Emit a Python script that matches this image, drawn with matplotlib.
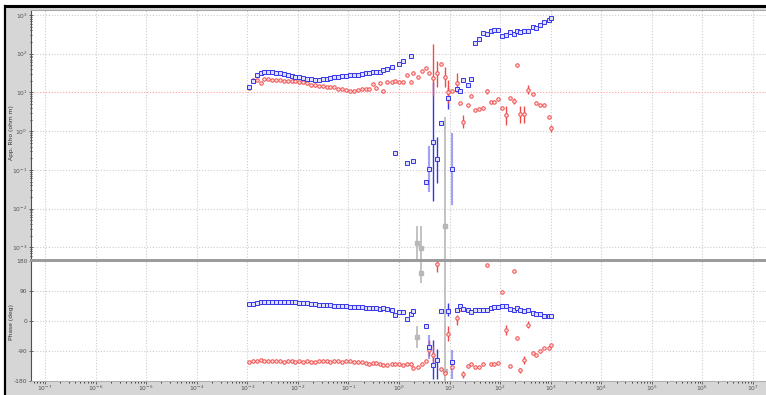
import numpy as np
import matplotlib
matplotlib.use("Agg")
import matplotlib.pyplot as plt
from matplotlib.ticker import FixedLocator, NullFormatter, LogLocator
from matplotlib.patches import Rectangle
from matplotlib.lines import Line2D

# ---------------------------------------------------------------- data
# log10 of period (s)
log_period = [
    -2.97, -2.89, -2.81, -2.73, -2.66, -2.59, -2.51, -2.43, -2.36, -2.28,
    -2.20, -2.12, -2.05, -1.97, -1.89, -1.82, -1.74, -1.66, -1.59, -1.51,
    -1.43, -1.36, -1.28, -1.20, -1.12, -1.05, -0.97, -0.89, -0.82, -0.74,
    -0.66, -0.59, -0.51, -0.45,
    -0.38, -0.31, -0.23, -0.14, -0.07, 0.00, 0.07, 0.15, 0.23, 0.28,
    0.38, 0.46, 0.54, 0.60, 0.67, 0.76, 0.83, 0.91, 0.97, 1.05,
    1.14, 1.21, 1.26, 1.36, 1.43, 1.50, 1.58, 1.66, 1.74, 1.81,
    1.88, 1.96, 2.04, 2.11, 2.19, 2.27, 2.34, 2.40, 2.48, 2.56,
    2.64, 2.70, 2.78, 2.86, 2.96, 3.01,
]

nan = float("nan")

# log10 apparent resistivity (ohm m), xy component (blue squares)
log_rho_xy = [
    1.14, 1.29, 1.44, 1.49, 1.53, 1.53, 1.53, 1.51, 1.50, 1.48,
    1.45, 1.42, 1.40, 1.39, 1.38, 1.36, 1.34, 1.33, 1.33, 1.34,
    1.36, 1.38, 1.39, 1.40, 1.42, 1.43, 1.44, 1.45, 1.46, 1.48,
    1.50, 1.51, 1.52, 1.52,
    1.52, 1.58, 1.61, 1.65, -0.57, 1.74, 1.80, -0.81, 1.94, -0.76,
    nan, nan, -1.32, -0.97, -0.27, -0.71, 0.22, nan, 0.85, -0.97,
    1.09, 1.03, 1.31, 1.20, 1.35, 2.29, 2.39, 2.54, 2.52, 2.60,
    2.62, 2.62, 2.46, 2.48, 2.55, 2.51, 2.60, 2.56, 2.60, 2.60,
    2.70, 2.66, 2.74, 2.82, 2.88, 2.92,
]

# log10 apparent resistivity (ohm m), yx component (red circles)
log_rho_yx = [
    1.12, 1.33, 1.33, 1.24, 1.34, 1.34, 1.33, 1.31, 1.32, 1.30,
    1.29, 1.30, 1.29, 1.28, 1.27, 1.25, 1.20, 1.18, 1.17, 1.16,
    1.15, 1.15, 1.13, 1.10, 1.09, 1.07, 1.05, 1.04, 1.06, 1.08,
    1.10, 1.08, 1.22, 1.12,
    1.24, 1.05, 1.26, 1.27, 1.29, 1.26, 1.26, 1.44, 1.27, 1.50,
    1.39, 1.56, 1.62, 1.51, 1.38, 1.50, 1.74, 1.41, 1.02, 1.03,
    1.24, 0.73, 0.24, 0.67, 0.90, 0.54, 0.58, 0.61, 1.03, 0.75,
    0.75, 0.82, 0.61, 0.41, 0.86, 0.77, 1.71, 0.44, 0.44, 1.07,
    0.95, 0.73, 0.68, 0.67, 0.37, 0.07,
]

# phase (deg)
phase_xy = [
    51, 51, 54, 57, 58, 58, 58, 58, 58, 58,
    57, 56, 56, 55, 54, 53, 51, 50, 49, 48,
    47, 47, 46, 45, 44, 44, 43, 42, 42, 41,
    40, 39, 39, 38,
    37, 39, 36, 32, 18, 26, 26, 7, 21, 29,
    nan, nan, -16, -78, -133, -119, 31, nan, 30, -124,
    32, 46, 36, 34, 27, 32, 32, 34, 34, 39,
    41, 41, 44, 46, 37, 34, 38, 33, 31, 32,
    24, 22, 21, 14, 14, 14,
]

phase_yx = [
    -124, -121, -121, -118, -121, -121, -122, -121, -122, -123,
    -121, -122, -124, -122, -123, -121, -123, -124, -122, -121,
    -122, -123, -121, -121, -123, -122, -122, -124, -125, -124,
    -127, -129, -126, -128,
    -131, -134, -134, -131, -131, -131, -134, -131, -131, -141,
    -138, -131, -121, -86, -102, 172, -144, -156, -38, -138,
    9, 36, -161, -136, -131, -138, -138, -131, 169, -131,
    -131, -126, 86, -26, -136, 152, -51, -148, -118, -11,
    -98, -104, -91, -82, -80, -71,
]

# error bars: log10 period, lower and upper bound
xy_rho_err_period = [0.60, 0.67, 0.76, 0.97, 1.05]
xy_rho_err_lo = [-1.58, -1.81, -1.33, 0.58, -1.90]
xy_rho_err_hi = [-0.38, 1.26, -0.15, 1.14, -0.06]

yx_rho_err_period = [0.67, 0.76, 0.91, 0.97, 1.14, 1.26, 1.74, 2.11, 2.27, 2.40, 2.48, 2.56, 3.01]
yx_rho_err_lo = [0.90, 1.14, 1.15, 0.72, 1.01, 0.07, 0.95, 0.15, 0.70, 0.22, 0.22, 0.95, -0.02]
yx_rho_err_hi = [2.26, 1.82, 1.67, 1.31, 1.49, 0.41, 1.10, 0.64, 0.85, 0.66, 0.66, 1.18, 0.15]

xy_phase_err_period = [0.60, 0.67, 0.76, 0.97, 1.05]
xy_phase_err_lo = [-116, -176, -174, 14, -176]
xy_phase_err_hi = [-41, -56, -84, 54, -86]

yx_phase_err_period = [0.60, 0.67, 0.76, 0.97, 1.14, 1.26, 2.11, 2.40, 2.48, 2.56]
yx_phase_err_lo = [-106, -131, 149, -61, -11, -171, -41, -156, -131, -21]
yx_phase_err_hi = [-56, -76, 184, -16, 19, -151, -11, -141, -106, -1]

# masked (deselected) estimates, drawn in grey
masked_period = [0.36, 0.44, 0.91]
masked_log_rho = [-2.88, -3.03, -2.44]
masked_rho_lo = [-3.4, -3.4, -3.4]
masked_rho_hi = [-2.44, -2.44, 0.37]
masked_phase = [-48, 146, -150]
masked_phase_lo = [-81, 115, -185]
masked_phase_hi = [-16, 185, 185]

# decade tick labels
x_decades = list(range(-7, 8))
rho_decades = list(range(-3, 4))
phase_ticks = [-180, -90, 0, 90, 180]

# ---------------------------------------------------------------- style
BLUE = "#3636e8"
BLUE_FACE = "#dedeff"
BLUE_LIGHT = "#8c8cf4"
RED = "#f04a4a"
RED_FACE = "#ffdede"
GREY = "#b8b8b8"
GRID = "#cdcdcd"
REFLINE = "#ffa0a0"
PANEL = "#d6d6d6"
TICKCOL = "#505050"
FS = 4.3
MS = 2.5
MEW = 0.7

W, H = 766, 395
fig = plt.figure(figsize=(W / 100, H / 100), dpi=100)
fig.patch.set_facecolor("white")

# grey frame behind the axes with a dark border on top and left
fig.add_artist(Rectangle((5 / W, 0), 1, 1 - 6 / H, transform=fig.transFigure,
                         facecolor=PANEL, edgecolor="none", zorder=0))
fig.add_artist(Line2D([5 / W, 5 / W], [0, 1 - 6 / H], transform=fig.transFigure,
                      color="black", lw=1.6, zorder=1))
fig.add_artist(Line2D([5 / W, 1], [1 - 6 / H, 1 - 6 / H], transform=fig.transFigure,
                      color="black", lw=2.2, zorder=1))

left = 31 / W
ax_rho = fig.add_axes([left, (H - 259.5) / H, 1 - left, (259.5 - 10) / H])
ax_ph = fig.add_axes([left, (H - 381) / H, 1 - left, (381 - 261) / H])

xlim = (10 ** -7.277, 10 ** 7.257)

period = 10.0 ** np.array(log_period)
DOT = (0, (1, 1.6))


def style_axes(ax):
    ax.set_facecolor("white")
    ax.set_xscale("log")
    ax.set_xlim(*xlim)
    ax.xaxis.set_major_locator(FixedLocator([10.0 ** d for d in x_decades]))
    ax.xaxis.set_minor_locator(LogLocator(base=10, subs=np.arange(2, 10), numticks=100))
    ax.spines["right"].set_visible(False)
    ax.spines["left"].set_color(TICKCOL)
    ax.spines["left"].set_linewidth(0.8)
    for xv in x_decades:
        c = REFLINE if xv == 0 else GRID
        ax.axvline(10.0 ** xv, color=c, lw=0.8, ls=DOT, zorder=1)
    ax.tick_params(axis="both", labelsize=FS, colors=TICKCOL, pad=1)


# ---------------------------------------------------------------- resistivity panel
style_axes(ax_rho)
ax_rho.set_yscale("log")
ax_rho.set_ylim(10 ** -3.315, 10 ** 3.13)
ax_rho.yaxis.set_major_locator(FixedLocator([10.0 ** d for d in rho_decades]))
ax_rho.set_yticklabels([r"$10^{%d}$" % d for d in rho_decades])
ax_rho.yaxis.set_minor_locator(LogLocator(base=10, subs=np.arange(2, 10), numticks=100))
ax_rho.yaxis.set_minor_formatter(NullFormatter())
ax_rho.tick_params(axis="y", which="major", direction="inout", length=3, width=0.6)
ax_rho.tick_params(axis="y", which="minor", direction="inout", length=2, width=0.5)
ax_rho.tick_params(axis="x", which="both", bottom=False, labelbottom=False)
ax_rho.spines["top"].set_color("#a8a8a8")
ax_rho.spines["bottom"].set_color("#9a9a9a")
ax_rho.spines["bottom"].set_linewidth(1.4)

for yv in rho_decades:
    c = REFLINE if yv == 1 else GRID
    ax_rho.axhline(10.0 ** yv, color=c, lw=0.8, ls=DOT, zorder=1)

# error bars
ax_rho.vlines(10.0 ** np.array(masked_period), 10.0 ** np.array(masked_rho_lo),
              10.0 ** np.array(masked_rho_hi), color=GREY, lw=1.2, zorder=2)
light_xy = [0.60, 1.05]
for p, lo, hi in zip(xy_rho_err_period, xy_rho_err_lo, xy_rho_err_hi):
    light = p in light_xy
    ax_rho.vlines(10.0 ** p, 10.0 ** lo, 10.0 ** hi,
                  color=BLUE_LIGHT if light else BLUE, lw=1.6 if light else 1.0,
                  alpha=0.8 if light else 1.0, zorder=2)
ax_rho.vlines(10.0 ** np.array(yx_rho_err_period), 10.0 ** np.array(yx_rho_err_lo),
              10.0 ** np.array(yx_rho_err_hi), color=RED, lw=1.0, zorder=2)

ax_rho.plot(10.0 ** np.array(masked_period), 10.0 ** np.array(masked_log_rho), "s",
            ms=MS, mfc=GREY, mec=GREY, zorder=3)
ax_rho.plot(period, 10.0 ** np.array(log_rho_yx), "o", ms=MS, mfc=RED_FACE, mec=RED,
            mew=MEW, ls="none", zorder=4)
ax_rho.plot(period, 10.0 ** np.array(log_rho_xy), "s", ms=MS, mfc=BLUE_FACE, mec=BLUE,
            mew=MEW, ls="none", zorder=5)

# ---------------------------------------------------------------- phase panel
style_axes(ax_ph)
ax_ph.set_ylim(-181, 181)
ax_ph.yaxis.set_major_locator(FixedLocator(phase_ticks))
ax_ph.set_yticklabels([str(v) for v in phase_ticks])
ax_ph.set_xticklabels([r"$10^{%d}$" % d for d in x_decades])
ax_ph.xaxis.set_minor_formatter(NullFormatter())
ax_ph.tick_params(axis="y", which="major", direction="inout", length=3, width=0.6)
ax_ph.tick_params(axis="x", which="major", direction="out", length=2, width=0.6, pad=0.3)
ax_ph.tick_params(axis="x", which="minor", direction="out", length=1.5, width=0.5)
ax_ph.spines["top"].set_color("#9a9a9a")
ax_ph.spines["top"].set_linewidth(1.4)
ax_ph.spines["bottom"].set_color("#b0b0b0")

for yv in phase_ticks[1:-1]:
    ax_ph.axhline(yv, color=GRID, lw=0.8, ls=DOT, zorder=1)

ax_ph.vlines(10.0 ** np.array(masked_period), masked_phase_lo, masked_phase_hi,
             color=GREY, lw=1.2, zorder=2)
for p, lo, hi in zip(xy_phase_err_period, xy_phase_err_lo, xy_phase_err_hi):
    light = p in light_xy
    ax_ph.vlines(10.0 ** p, lo, hi,
                 color=BLUE_LIGHT if light else BLUE, lw=1.6 if light else 1.0,
                 alpha=0.8 if light else 1.0, zorder=2)
ax_ph.vlines(10.0 ** np.array(yx_phase_err_period), yx_phase_err_lo, yx_phase_err_hi,
             color=RED, lw=1.0, zorder=2)

ax_ph.plot(10.0 ** np.array(masked_period), masked_phase, "s", ms=MS, mfc=GREY, mec=GREY,
           zorder=3)
ax_ph.plot(period, phase_yx, "o", ms=MS, mfc=RED_FACE, mec=RED, mew=MEW, ls="none", zorder=4)
ax_ph.plot(period, phase_xy, "s", ms=MS, mfc=BLUE_FACE, mec=BLUE, mew=MEW, ls="none", zorder=5)

# axis titles
fig.text(12 / W, 1 - 133 / H, "App. Rho (ohm m)", rotation=90, ha="center", va="center",
         fontsize=FS, color="#303030")
fig.text(12 / W, 1 - 322 / H, "Phase (deg)", rotation=90, ha="center", va="center",
         fontsize=FS, color="#303030")

fig.savefig("out.png", dpi=100, facecolor=fig.get_facecolor())
